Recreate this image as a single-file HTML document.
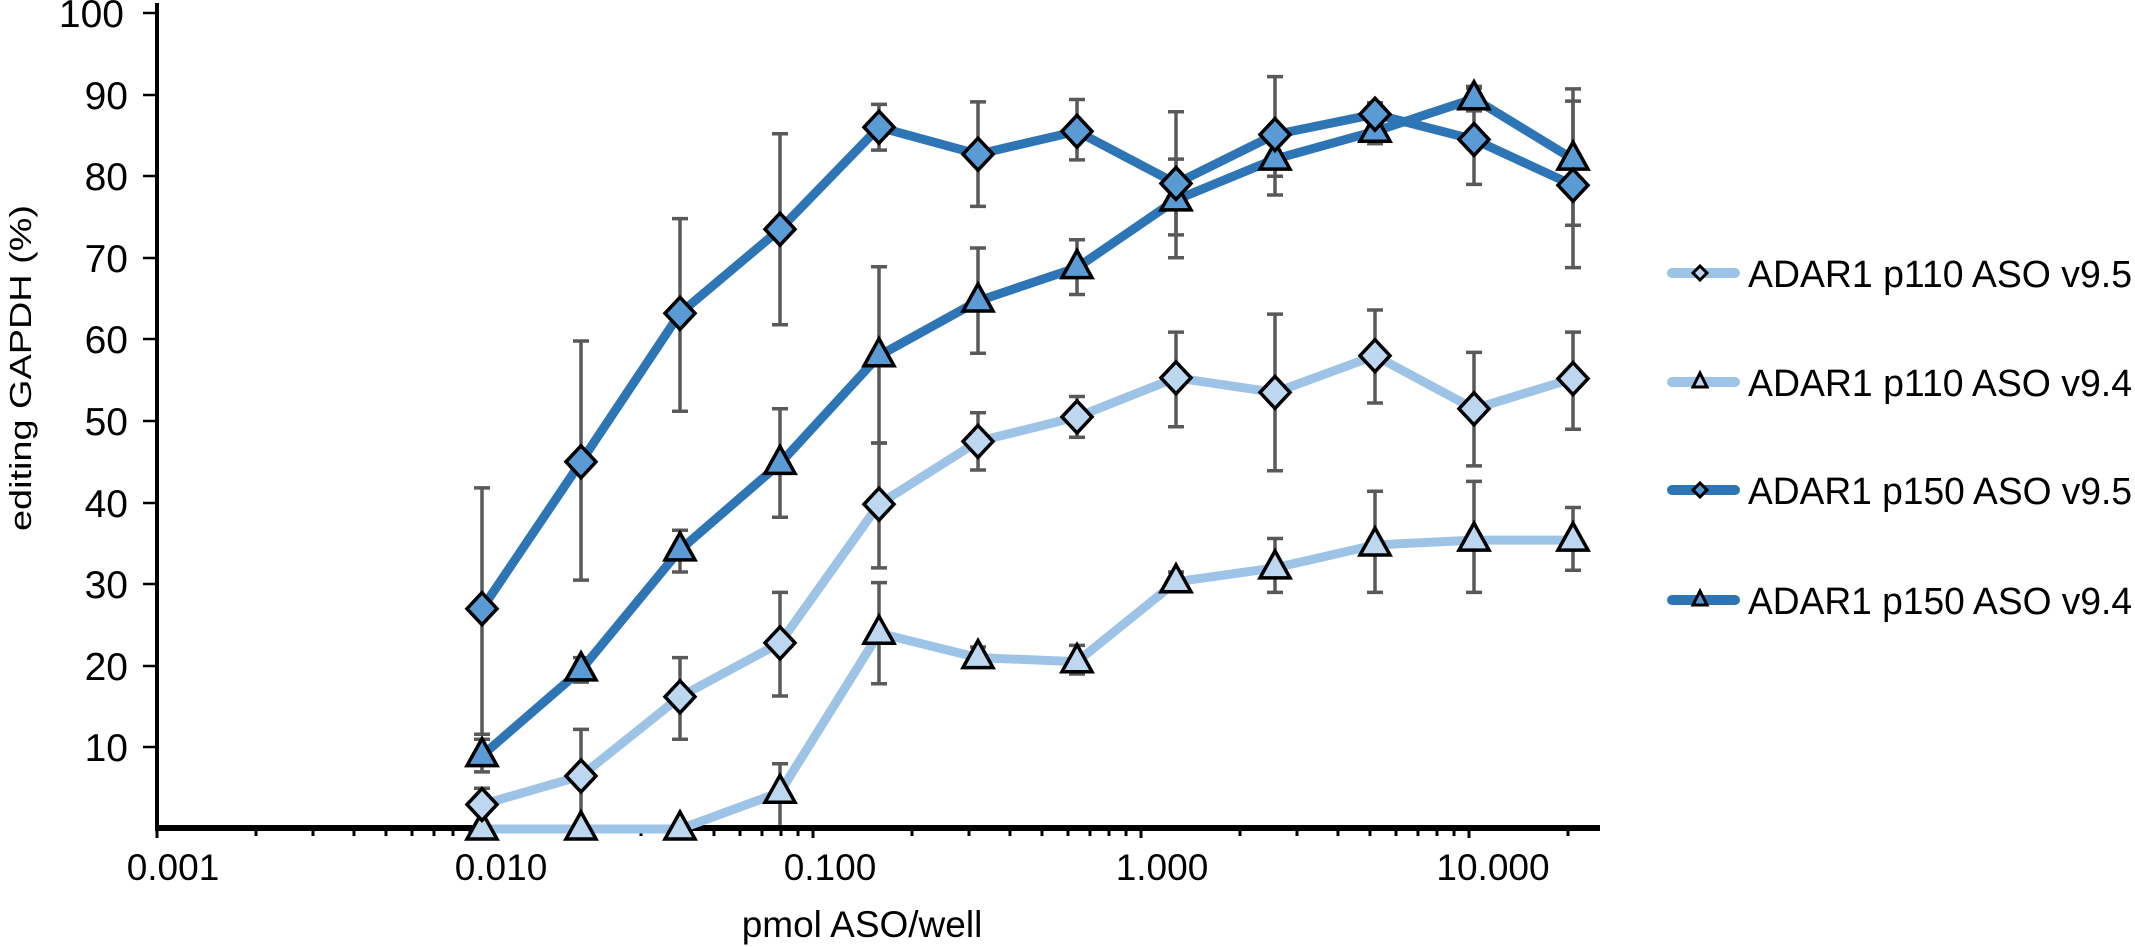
<!DOCTYPE html>
<html><head><meta charset="utf-8"><style>html,body{margin:0;padding:0;background:#fff}svg{display:block}</style></head>
<body>
<svg width="2135" height="947" viewBox="0 0 2135 947" xmlns="http://www.w3.org/2000/svg" font-family="Liberation Sans, sans-serif">
<defs>
<path id="dm" d="M0,-16 L15,0 L0,16 L-15,0Z"/>
<path id="tr" d="M0,-17 L15,10 L-15,10Z"/>
</defs>
<rect width="2135" height="947" fill="#fff"/>
<!-- axes -->
<line x1="157" y1="3" x2="157" y2="831" stroke="#000" stroke-width="4"/>
<line x1="155" y1="828" x2="1600" y2="828" stroke="#000" stroke-width="6"/>
<g stroke="#000" stroke-width="2.5">
<line x1="143" y1="13" x2="157" y2="13"/><line x1="143" y1="95" x2="157" y2="95"/><line x1="143" y1="176" x2="157" y2="176"/><line x1="143" y1="258" x2="157" y2="258"/><line x1="143" y1="339" x2="157" y2="339"/><line x1="143" y1="421" x2="157" y2="421"/><line x1="143" y1="503" x2="157" y2="503"/><line x1="143" y1="584" x2="157" y2="584"/><line x1="143" y1="666" x2="157" y2="666"/><line x1="143" y1="747" x2="157" y2="747"/>
</g>
<g stroke="#000" stroke-width="3">
<line x1="157" y1="828" x2="157" y2="838"/><line x1="256" y1="828" x2="256" y2="836"/><line x1="313" y1="828" x2="313" y2="836"/><line x1="354" y1="828" x2="354" y2="836"/><line x1="386" y1="828" x2="386" y2="836"/><line x1="412" y1="828" x2="412" y2="836"/><line x1="434" y1="828" x2="434" y2="836"/><line x1="453" y1="828" x2="453" y2="836"/><line x1="470" y1="828" x2="470" y2="836"/>
<line x1="485" y1="828" x2="485" y2="838"/><line x1="584" y1="828" x2="584" y2="836"/><line x1="641" y1="828" x2="641" y2="836"/><line x1="682" y1="828" x2="682" y2="836"/><line x1="714" y1="828" x2="714" y2="836"/><line x1="740" y1="828" x2="740" y2="836"/><line x1="762" y1="828" x2="762" y2="836"/><line x1="781" y1="828" x2="781" y2="836"/><line x1="798" y1="828" x2="798" y2="836"/>
<line x1="813" y1="828" x2="813" y2="838"/><line x1="912" y1="828" x2="912" y2="836"/><line x1="969" y1="828" x2="969" y2="836"/><line x1="1010" y1="828" x2="1010" y2="836"/><line x1="1042" y1="828" x2="1042" y2="836"/><line x1="1068" y1="828" x2="1068" y2="836"/><line x1="1090" y1="828" x2="1090" y2="836"/><line x1="1109" y1="828" x2="1109" y2="836"/><line x1="1126" y1="828" x2="1126" y2="836"/>
<line x1="1141" y1="828" x2="1141" y2="838"/><line x1="1240" y1="828" x2="1240" y2="836"/><line x1="1297" y1="828" x2="1297" y2="836"/><line x1="1338" y1="828" x2="1338" y2="836"/><line x1="1370" y1="828" x2="1370" y2="836"/><line x1="1396" y1="828" x2="1396" y2="836"/><line x1="1418" y1="828" x2="1418" y2="836"/><line x1="1437" y1="828" x2="1437" y2="836"/><line x1="1454" y1="828" x2="1454" y2="836"/>
<line x1="1469" y1="828" x2="1469" y2="838"/><line x1="1568" y1="828" x2="1568" y2="836"/>
</g>
<!-- y labels -->
<g font-size="39" text-anchor="end" fill="#000">
<text x="124" y="27">100</text><text x="128" y="109">90</text><text x="128" y="190">80</text><text x="128" y="272">70</text><text x="128" y="353">60</text><text x="128" y="435">50</text><text x="128" y="517">40</text><text x="128" y="598">30</text><text x="128" y="680">20</text><text x="128" y="761">10</text>
</g>
<g font-size="37" text-anchor="middle" fill="#000">
<text x="173" y="880">0.001</text><text x="501" y="880">0.010</text><text x="830" y="880">0.100</text><text x="1162" y="880">1.000</text><text x="1493" y="880">10.000</text>
<text x="862" y="937">pmol ASO/well</text>
</g>
<text transform="translate(31,368) rotate(-90)" font-size="31" text-anchor="middle" textLength="326" lengthAdjust="spacingAndGlyphs">editing GAPDH (%)</text>
<!-- error bars -->
<g stroke="#595959" stroke-width="3.5" fill="none">
<!-- A -->
<path d="M482,734.3V487.9M474,734.3H490M474,487.9H490
M581,580.1V341M573,580.1H589M573,341H589
M680,411.2V218.6M672,411.2H688M672,218.6H688
M780,324.7V133.8M772,324.7H788M772,133.8H788
M879,150.1V104.4M871,150.1H887M871,104.4H887
M978,206.4V101.9M970,206.4H986M970,101.9H986
M1077,159.9V99.5M1069,159.9H1085M1069,99.5H1085
M1176,257.8V111.7M1168,257.8H1184M1168,111.7H1184
M1275,195V76.6M1267,195H1283M1267,76.6H1283
M1375,127.2V102.8M1367,127.2H1383M1367,102.8H1383
M1474,184.4V88.1M1466,184.4H1482M1466,88.1H1482
M1573,267.6V101.1M1565,267.6H1581M1565,101.1H1581"/>
<!-- B -->
<path d="M482,771.9V739.2M474,771.9H490M474,739.2H490
M581,682.1V657.6M573,682.1H589M573,657.6H589
M680,572V530.3M672,572H688M672,530.3H688
M780,517.3V408.8M772,517.3H788M772,408.8H788
M879,443V266.8M871,443H887M871,266.8H887
M978,353.3V248M970,353.3H986M970,248H986
M1077,294.5V239.8M1069,294.5H1085M1069,239.8H1085
M1176,234.9V159.1M1168,234.9H1184M1168,159.1H1184
M1275,176.2V143.6M1267,176.2H1283M1267,143.6H1283
M1375,143.6V119.1M1367,143.6H1383M1367,119.1H1383
M1474,110.9V86.4M1466,110.9H1482M1466,86.4H1482
M1573,225.2V88.9M1565,225.2H1581M1565,88.9H1581"/>
<!-- C -->
<path d="M482,820.8V788.2M474,788.2H490
M581,820.8V729.4M573,729.4H589
M680,739.2V657.6M672,739.2H688M672,657.6H688
M780,696V592.4M772,696H788M772,592.4H788
M879,567.9V443M871,567.9H887M871,443H887
M978,470V412.8M970,470H986M970,412.8H986
M1077,437.3V396.5M1069,437.3H1085M1069,396.5H1085
M1176,426.7V332.1M1168,426.7H1184M1168,332.1H1184
M1275,470.8V314.1M1267,470.8H1283M1267,314.1H1283
M1375,403V310M1367,403H1383M1367,310H1383
M1474,465.9V352.4M1466,465.9H1482M1466,352.4H1482
M1573,429.2V332.1M1565,429.2H1581M1565,332.1H1581"/>
<!-- D -->
<path d="M780,824.9V763.7M772,763.7H788
M879,683.8V582.6M871,683.8H887M871,582.6H887
M978,665.8V647M970,665.8H986M970,647H986
M1077,674V645.4M1069,674H1085M1069,645.4H1085
M1176,588.3V572M1168,588.3H1184M1168,572H1184
M1275,592.4V538.5M1267,592.4H1283M1267,538.5H1283
M1375,592.4V491.2M1367,592.4H1383M1367,491.2H1383
M1474,592.4V481.4M1466,592.4H1482M1466,481.4H1482
M1573,570.3V507.5M1565,570.3H1581M1565,507.5H1581"/>
</g>
<!-- lines -->
<g fill="none" stroke-width="9" stroke-linejoin="round">
<polyline stroke="#9dc3e6" points="482,829 581,829 680,829 780,792.3 879,633.2 978,657.6 1077,661.7 1176,581.8 1275,567.9 1375,545 1474,540.1 1573,540.1"/>
<polyline stroke="#9dc3e6" points="482,804.5 581,776 680,696.8 780,642.9 879,504.2 978,441.4 1077,416.9 1176,377.8 1275,392.4 1375,355.7 1474,408.8 1573,378.6"/>
<polyline stroke="#2e75b6" points="482,755.6 581,669.9 680,549.9 780,463.4 879,355.7 978,301 1077,267.6 1176,199.9 1275,159.1 1375,131.3 1474,98.7 1573,159.1"/>
<polyline stroke="#2e75b6" points="482,608.7 581,461.8 680,313.3 780,229.2 879,127.2 978,154.2 1077,131.3 1176,183.5 1275,134.6 1375,114.2 1474,139.5 1573,185.2"/>
</g>
<!-- markers -->
<g stroke="#000" stroke-width="3.5" stroke-linejoin="miter">
<g fill="#bcd7ef">
<use href="#tr" x="482" y="829"/><use href="#tr" x="581" y="829"/><use href="#tr" x="680" y="829"/><use href="#tr" x="780" y="792.3"/><use href="#tr" x="879" y="633.2"/><use href="#tr" x="978" y="657.6"/><use href="#tr" x="1077" y="661.7"/><use href="#tr" x="1176" y="581.8"/><use href="#tr" x="1275" y="567.9"/><use href="#tr" x="1375" y="545"/><use href="#tr" x="1474" y="540.1"/><use href="#tr" x="1573" y="540.1"/>
<use href="#dm" x="482" y="804.5"/><use href="#dm" x="581" y="776"/><use href="#dm" x="680" y="696.8"/><use href="#dm" x="780" y="642.9"/><use href="#dm" x="879" y="504.2"/><use href="#dm" x="978" y="441.4"/><use href="#dm" x="1077" y="416.9"/><use href="#dm" x="1176" y="377.8"/><use href="#dm" x="1275" y="392.4"/><use href="#dm" x="1375" y="355.7"/><use href="#dm" x="1474" y="408.8"/><use href="#dm" x="1573" y="378.6"/>
</g>
<g fill="#5b9bd5">
<use href="#tr" x="482" y="755.6"/><use href="#tr" x="581" y="669.9"/><use href="#tr" x="680" y="549.9"/><use href="#tr" x="780" y="463.4"/><use href="#tr" x="879" y="355.7"/><use href="#tr" x="978" y="301"/><use href="#tr" x="1077" y="267.6"/><use href="#tr" x="1176" y="199.9"/><use href="#tr" x="1275" y="159.1"/><use href="#tr" x="1375" y="131.3"/><use href="#tr" x="1474" y="98.7"/><use href="#tr" x="1573" y="159.1"/>
<use href="#dm" x="482" y="608.7"/><use href="#dm" x="581" y="461.8"/><use href="#dm" x="680" y="313.3"/><use href="#dm" x="780" y="229.2"/><use href="#dm" x="879" y="127.2"/><use href="#dm" x="978" y="154.2"/><use href="#dm" x="1077" y="131.3"/><use href="#dm" x="1176" y="183.5"/><use href="#dm" x="1275" y="134.6"/><use href="#dm" x="1375" y="114.2"/><use href="#dm" x="1474" y="139.5"/><use href="#dm" x="1573" y="185.2"/>
</g>
</g>
<!-- legend -->
<g stroke-width="10" stroke-linecap="round">
<line x1="1672" y1="273" x2="1735" y2="273" stroke="#9dc3e6"/>
<line x1="1672" y1="382" x2="1735" y2="382" stroke="#9dc3e6"/>
<line x1="1672" y1="490" x2="1735" y2="490" stroke="#2e75b6"/>
<line x1="1672" y1="600" x2="1735" y2="600" stroke="#2e75b6"/>
</g>
<g stroke="#000" stroke-width="3">
<path d="M1700,266 L1707,273 L1700,280 L1693,273Z" fill="#bcd7ef"/>
<path d="M1700,373 L1707,387 L1693,387Z" fill="#bcd7ef"/>
<path d="M1700,483 L1707,490 L1700,497 L1693,490Z" fill="#5b9bd5"/>
<path d="M1700,591 L1707,605 L1693,605Z" fill="#5b9bd5"/>
</g>
<g font-size="38" fill="#000">
<text x="1748" y="287" textLength="384" lengthAdjust="spacingAndGlyphs">ADAR1 p110 ASO v9.5</text>
<text x="1748" y="396" textLength="384" lengthAdjust="spacingAndGlyphs">ADAR1 p110 ASO v9.4</text>
<text x="1748" y="504" textLength="384" lengthAdjust="spacingAndGlyphs">ADAR1 p150 ASO v9.5</text>
<text x="1748" y="614" textLength="384" lengthAdjust="spacingAndGlyphs">ADAR1 p150 ASO v9.4</text>
</g>
</svg>
</body></html>
